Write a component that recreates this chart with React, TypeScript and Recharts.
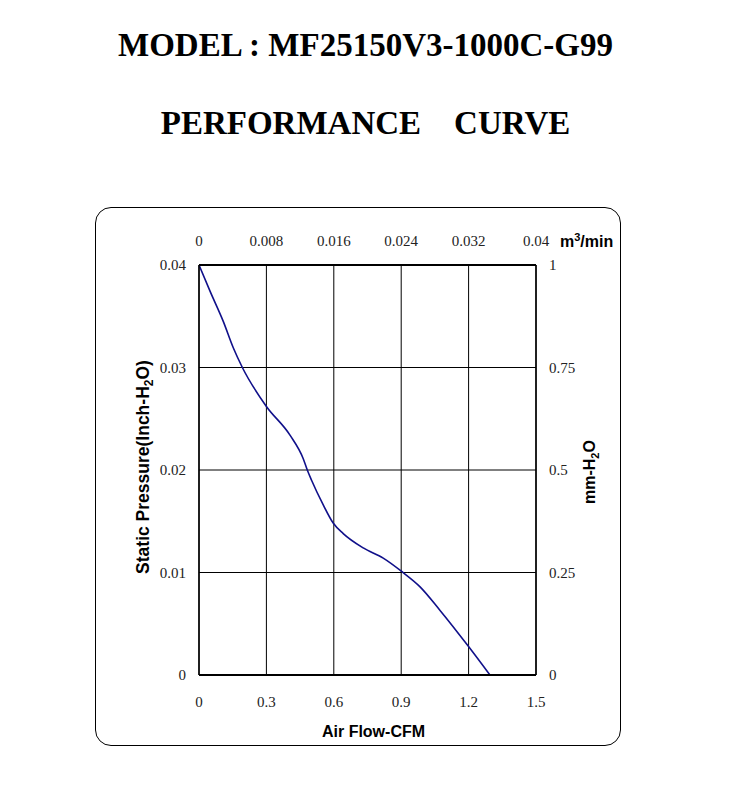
import React from 'react';
import { LineChart, Line, XAxis, YAxis, CartesianGrid } from 'recharts';

const flowCFM = [0, 0.05, 0.108, 0.153, 0.193, 0.3, 0.405, 0.464, 0.482, 0.501, 0.553, 0.598, 0.642, 0.731, 0.82, 0.902, 0.984, 1.073, 1.199, 1.295];
const pressureInch = [0.04, 0.0374, 0.0345, 0.0319, 0.03, 0.0262, 0.0234, 0.0211, 0.02, 0.019, 0.0166, 0.0148, 0.0138, 0.0124, 0.0114, 0.0101, 0.0086, 0.0063, 0.0028, 0];

const cfmTicks = [0, 0.3, 0.6, 0.9, 1.2, 1.5];
const m3TickLabels = ['0', '0.008', '0.016', '0.024', '0.032', '0.04'];
const inchTicks = [0, 0.01, 0.02, 0.03, 0.04];
const mmTicks = [0, 0.25, 0.5, 0.75, 1];

const titleLine1 = 'MODEL : MF25150V3-1000C-G99';
const titleLine2 = 'PERFORMANCE    CURVE';

const data = flowCFM.map((x, i) => ({ cfm: x, p: pressureInch[i] }));

const tickStyle = { fontFamily: '"Liberation Serif", "Times New Roman", serif', fontSize: 15, fill: '#222' };
const labelFont = '"Liberation Sans", Arial, sans-serif';

export default function App() {
  return (
    <div style={{ position: 'absolute', left: 0, top: 0, width: 739, height: 811, background: '#fff' }}>
      <div style={{ position: 'absolute', left: 0, top: 25, width: 731, textAlign: 'center', fontFamily: '"Liberation Serif", "Times New Roman", serif', fontWeight: 'bold', fontSize: 33, lineHeight: '40px', color: '#000', whiteSpace: 'pre' }}>{titleLine1}</div>
      <div style={{ position: 'absolute', left: 0, top: 103, width: 731, textAlign: 'center', fontFamily: '"Liberation Serif", "Times New Roman", serif', fontWeight: 'bold', fontSize: 33, lineHeight: '40px', color: '#000', whiteSpace: 'pre' }}>{titleLine2}</div>
      <div style={{ position: 'absolute', left: 95, top: 207, width: 526, height: 539, boxSizing: 'border-box', border: '1.5px solid #000', borderRadius: 16 }} />
      <div style={{ position: 'absolute', left: 0, top: 0 }}>
        <LineChart width={739} height={811} data={data} margin={{ top: 235, right: 143, bottom: 106, left: 139 }}>
          <CartesianGrid xAxisId="bottom" yAxisId="left" stroke="#000" strokeWidth={1} vertical horizontal />
          <XAxis
            xAxisId="bottom"
            dataKey="cfm"
            type="number"
            domain={[0, 1.5]}
            allowDataOverflow
            ticks={cfmTicks}
            tickLine={false}
            tickSize={0}
            tickMargin={21}
            axisLine={{ stroke: '#000', strokeWidth: 2 }}
            tick={tickStyle}
            height={30}
            label={{
              content: (props: any) => {
                const vb = props.viewBox || { x: 199, y: 675, width: 337 };
                return (
                  <text x={vb.x + vb.width / 2 + 6} y={737} textAnchor="middle" fontFamily={labelFont} fontWeight="bold" fontSize={16} fill="#000">Air Flow-CFM</text>
                );
              },
            }}
          />
          <XAxis
            xAxisId="top"
            orientation="top"
            dataKey="cfm"
            type="number"
            domain={[0, 1.5]}
            allowDataOverflow
            ticks={cfmTicks}
            interval={0}
            tickFormatter={(v: number, i: number) => m3TickLabels[i] ?? ''}
            tickLine={false}
            tickSize={0}
            tickMargin={19}
            axisLine={{ stroke: '#000', strokeWidth: 2 }}
            tick={tickStyle}
            height={30}
            label={{
              content: (props: any) => {
                const vb = props.viewBox || { x: 199, y: 235, width: 337 };
                return (
                  <text x={vb.x + vb.width + 24} y={247} textAnchor="start" fontFamily={labelFont} fontWeight="bold" fontSize={16} fill="#000">
                    m<tspan dy={-6} fontSize={11}>3</tspan><tspan dy={6}>/min</tspan>
                  </text>
                );
              },
            }}
          />
          <YAxis
            yAxisId="left"
            type="number"
            domain={[0, 0.04]}
            allowDataOverflow
            ticks={inchTicks}
            tickLine={false}
            tickSize={0}
            tickMargin={13}
            axisLine={{ stroke: '#000', strokeWidth: 1.5 }}
            tick={tickStyle}
            width={60}
            label={{
              content: () => {
                const cx = 149;
                const cy = 467;
                return (
                  <text x={cx} y={cy} transform={`rotate(-90 ${cx} ${cy})`} textAnchor="middle" fontFamily={labelFont} fontWeight="bold" fontSize={17.5} fill="#000">
                    Static Pressure(Inch-H<tspan dy={4} fontSize={12}>2</tspan><tspan dy={-4}>O)</tspan>
                  </text>
                );
              },
            }}
          />
          <YAxis
            yAxisId="right"
            orientation="right"
            type="number"
            domain={[0, 1]}
            allowDataOverflow
            ticks={mmTicks}
            tickLine={false}
            tickSize={0}
            tickMargin={13}
            axisLine={{ stroke: '#000', strokeWidth: 1.5 }}
            tick={tickStyle}
            width={60}
            label={{
              content: () => {
                const cx = 595;
                const cy = 472;
                return (
                  <text x={cx} y={cy} transform={`rotate(-90 ${cx} ${cy})`} textAnchor="middle" fontFamily={labelFont} fontWeight="bold" fontSize={16} fill="#000">
                    mm-H<tspan dy={4} fontSize={11}>2</tspan><tspan dy={-4}>O</tspan>
                  </text>
                );
              },
            }}
          />
          <Line
            xAxisId="bottom"
            yAxisId="left"
            type="monotone"
            dataKey="p"
            stroke="#10108a"
            strokeWidth={1.6}
            dot={false}
            isAnimationActive={false}
          />
        </LineChart>
      </div>
    </div>
  );
}
